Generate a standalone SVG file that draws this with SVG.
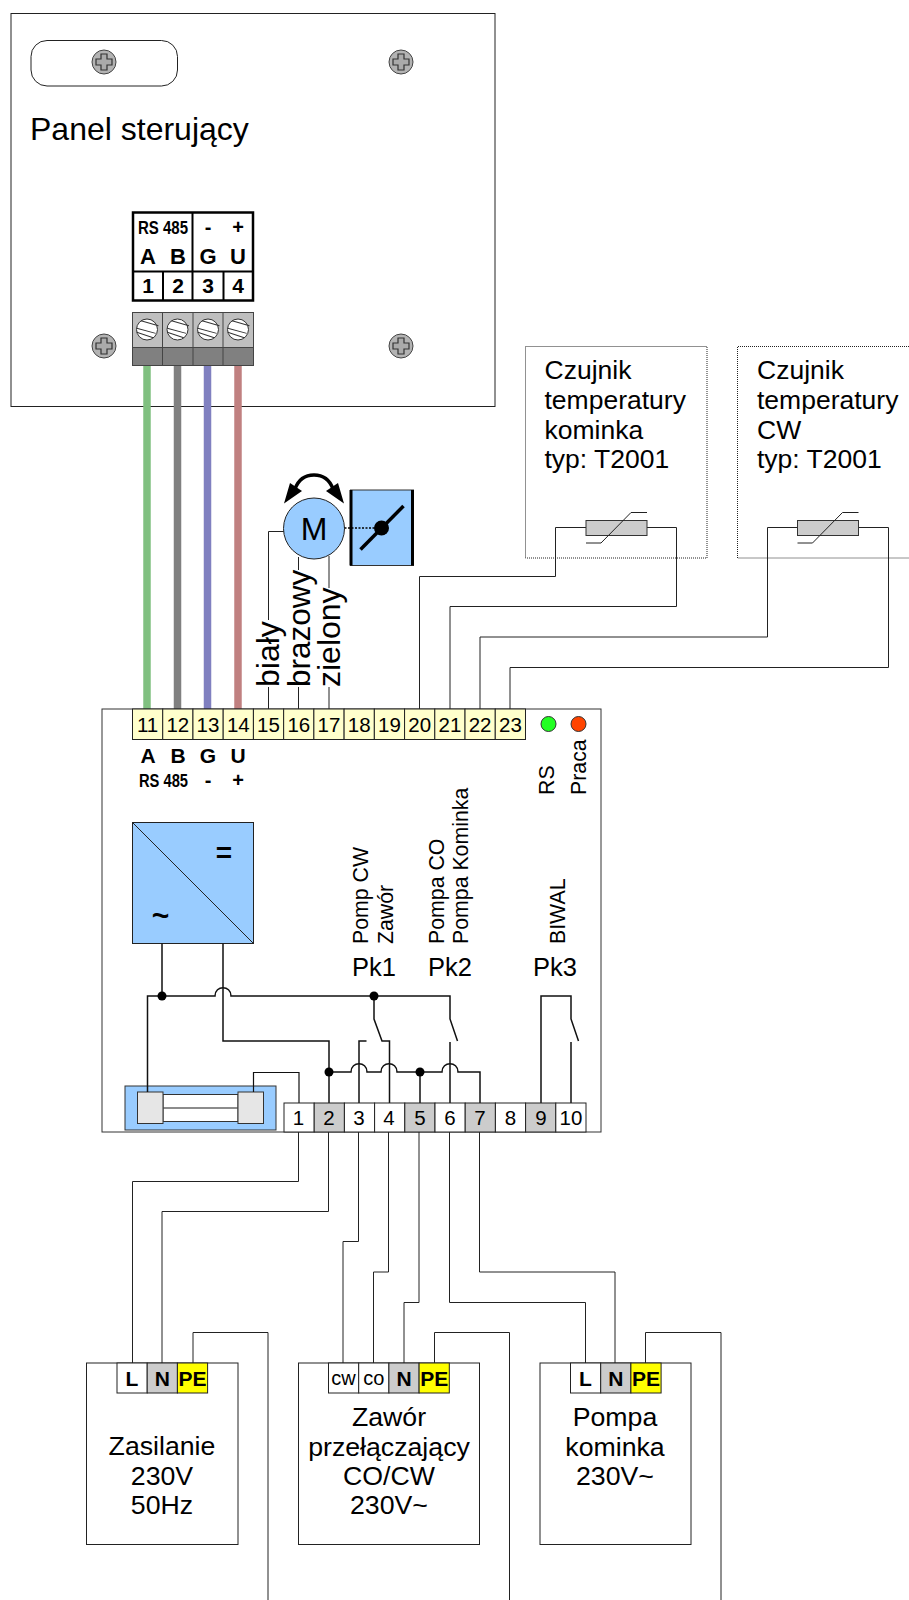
<svg xmlns="http://www.w3.org/2000/svg" xmlns:xlink="http://www.w3.org/1999/xlink" width="909" height="1600" viewBox="0 0 909 1600">
<style>
text{font-family:"Liberation Sans",Arial,sans-serif;fill:#000}
.b{fill:#fff;stroke:#222;stroke-width:1}
.w{fill:none;stroke:#222;stroke-width:1}
.w2{fill:none;stroke:#111;stroke-width:1.5}
.cell{stroke:#222;stroke-width:1}
.y{fill:#ffc}.g{fill:#ccc}.n{fill:#fff}.pe{fill:#ff0}
.blue{fill:#9cf;stroke:#222;stroke-width:1}
.num{font-size:20.5px;text-anchor:middle}
.bold{font-weight:bold;text-anchor:middle}
.big{font-size:26.7px;text-anchor:middle}
.s26{font-size:26.5px}
.v{font-size:21.3px}
.thick{fill:none;stroke:#000;stroke-width:3.5}
.dot{fill:#000}
.sens{fill:none;stroke:#222;stroke-width:1;stroke-dasharray:1 1}
</style>
<defs>
<g id="screw"><circle r="12" fill="#b3b3b3" stroke="#444" stroke-width="1"/><path d="M-3-8H3V-3H8V3H3V8H-3V3H-8V-3H-3Z" fill="#aaa" stroke="#333" stroke-width="1.2"/></g>
<g id="slot"><circle r="10.5" fill="#fff" stroke="#333" stroke-width="1"/><path d="M-9.5-4.500L8-9M-9.500 4L9.500-1M-7.500 7.500L9.500 4" transform="rotate(30)" fill="none" stroke="#333" stroke-width="1"/></g>
</defs>

<g id="panel">
<rect class="b" x="11" y="13.500" width="484" height="393"/>
<rect class="b" x="31" y="40.500" width="146.500" height="45.500" rx="16"/>
<use xlink:href="#screw" x="104" y="62"/><use xlink:href="#screw" x="401" y="62"/><use xlink:href="#screw" x="104" y="346"/><use xlink:href="#screw" x="401" y="346"/>
<text x="30" y="140" font-size="32">Panel sterujący</text>
<g id="panel-labels">
<rect x="133" y="212.500" width="120" height="88" fill="#fff" stroke="#000" stroke-width="2.500"/>
<path d="M133 271.500H253M192.500 212.500V300.500M163 271.500V300.500M223.500 271.500V300.500" fill="none" stroke="#000" stroke-width="2"/>
<text x="163" y="234" font-size="18" class="bold" textLength="50" lengthAdjust="spacingAndGlyphs">RS 485</text>
<text x="208" y="234" font-size="20" class="bold">-</text><text x="238" y="234" font-size="20" class="bold">+</text>
<text x="148" y="264" font-size="22" class="bold">A</text><text x="178" y="264" font-size="22" class="bold">B</text><text x="208" y="264" font-size="22" class="bold">G</text><text x="238" y="264" font-size="22" class="bold">U</text>
<text x="148" y="293" font-size="21" class="bold">1</text><text x="178" y="293" font-size="21" class="bold">2</text><text x="208" y="293" font-size="21" class="bold">3</text><text x="238" y="293" font-size="21" class="bold">4</text>
</g>
<g id="panel-block">
<rect x="132.500" y="312.500" width="121" height="35" fill="#bfbfbf" stroke="#444"/>
<rect x="132.500" y="347.500" width="121" height="18" fill="#808080" stroke="#444"/>
<path d="M162.500 312.500V365M193 312.500V365M223 312.500V365" fill="none" stroke="#444"/>
<use xlink:href="#slot" x="147" y="329.500"/><use xlink:href="#slot" x="177.500" y="329.500"/><use xlink:href="#slot" x="208" y="329.500"/><use xlink:href="#slot" x="238" y="329.500"/>
</g>
</g>

<g id="connectors">
<path d="M147 366V709" fill="none" stroke="#80c080" stroke-width="7.500"/>
<path d="M177.500 366V709" fill="none" stroke="#808080" stroke-width="7.500"/>
<path d="M207.500 366V709" fill="none" stroke="#8080c0" stroke-width="7.500"/>
<path d="M238 366V709" fill="none" stroke="#c08080" stroke-width="7.500"/>
<path class="w" d="M268.500 709V531.500H284M298.500 709V557M329 709V556"/>
<path class="w" d="M586 527.500H555.500V576.500H419.500V709M647 527.500H676.500V606.500H450V709"/>
<path class="w" d="M797 527.500H767.500V637H480V709M859 527.500H888.500V667.500H510V709"/>
<path class="w" d="M298.500 1132V1181.500H132.500V1363M328.500 1132V1211.500H162V1363M358.500 1132V1241.500H343V1363M388.500 1132V1272H373.500V1363M419 1132V1302.500H404V1363M449.500 1132V1302.500H585.500V1363M479.500 1132V1272H615V1363"/>
<path class="w" d="M193 1363V1332.500H268V1600M434.500 1363V1332.500H509.500V1600M645.500 1363V1332.500H721V1600"/>
</g>

<g id="motor">
<path class="thick" d="M295 489C299 478 307 475 314 475C321 475 329 478 333 489"/>
<path d="M284 503.500L290 483L302 491Z M344 503.500L338 483L326 491Z" fill="#000"/>
<circle class="blue" cx="314" cy="528.500" r="30.500"/>
<text x="314" y="540" font-size="32" text-anchor="middle">M</text>
</g>
<g id="damper">
<rect x="350.500" y="490" width="63" height="75.500" fill="#9cf" stroke="#333"/>
<path d="M351 490V565.500M412.500 490V565.500" fill="none" stroke="#000" stroke-width="3"/>
<path d="M344.500 528H381" fill="none" stroke="#000" stroke-width="1.500" stroke-dasharray="2 1.500"/>
<path d="M360.500 549.500L403.500 506" fill="none" stroke="#000" stroke-width="3.500"/>
<circle class="dot" cx="381.500" cy="528" r="7.500"/>
</g>

<g id="wire-labels">
<rect x="257" y="620" width="24" height="67" fill="#fff"/>
<rect x="287" y="570" width="24" height="117" fill="#fff"/>
<rect x="317" y="588" width="24" height="99" fill="#fff"/>
<text transform="translate(279 687) rotate(-90)" font-size="32">biały</text>
<text transform="translate(309.500 687) rotate(-90)" font-size="31.500">brazowy</text>
<text transform="translate(339.500 687) rotate(-90)" font-size="32">zielony</text>
</g>

<g id="sensor-1">
<rect class="sens" x="525.500" y="346.500" width="181.500" height="211.500"/>
<text class="s26" x="544.500" y="379">Czujnik</text><text class="s26" x="544.500" y="409">temperatury</text><text class="s26" x="544.500" y="438.500">kominka</text><text class="s26" x="544.500" y="468">typ: T2001</text>
<rect x="586" y="520.500" width="61" height="15" fill="#ccc" stroke="#333"/>
<path class="w" d="M586 543H601L631 512.500H647"/>
</g>
<g id="sensor-2">
<path class="sens" d="M909 346.500H737.500V558H909"/>
<text class="s26" x="757" y="379">Czujnik</text><text class="s26" x="757" y="409">temperatury</text><text class="s26" x="757" y="438.500">CW</text><text class="s26" x="757" y="468">typ: T2001</text>
<rect x="797.500" y="520.500" width="61" height="15" fill="#ccc" stroke="#333"/>
<path class="w" d="M797.500 543H812.500L842.500 512.500H858.500"/>
</g>

<g id="board">
<rect x="102" y="709" width="499" height="423" fill="#fff" stroke="#333" stroke-width="1"/>
<g id="top-terminals">
<rect class="cell y" x="132.500" y="709" width="30.230" height="30.500"/><rect class="cell y" x="162.730" y="709" width="30.230" height="30.500"/><rect class="cell y" x="192.960" y="709" width="30.230" height="30.500"/><rect class="cell y" x="223.190" y="709" width="30.230" height="30.500"/><rect class="cell y" x="253.420" y="709" width="30.230" height="30.500"/><rect class="cell y" x="283.650" y="709" width="30.230" height="30.500"/><rect class="cell y" x="313.880" y="709" width="30.230" height="30.500"/><rect class="cell y" x="344.110" y="709" width="30.230" height="30.500"/><rect class="cell y" x="374.340" y="709" width="30.230" height="30.500"/><rect class="cell y" x="404.570" y="709" width="30.230" height="30.500"/><rect class="cell y" x="434.800" y="709" width="30.230" height="30.500"/><rect class="cell y" x="465.030" y="709" width="30.230" height="30.500"/><rect class="cell y" x="495.260" y="709" width="30.230" height="30.500"/>
<text class="num" x="147.600" y="731.500">11</text><text class="num" x="177.800" y="731.500">12</text><text class="num" x="208" y="731.500">13</text><text class="num" x="238.300" y="731.500">14</text><text class="num" x="268.500" y="731.500">15</text><text class="num" x="298.800" y="731.500">16</text><text class="num" x="329" y="731.500">17</text><text class="num" x="359.200" y="731.500">18</text><text class="num" x="389.500" y="731.500">19</text><text class="num" x="419.700" y="731.500">20</text><text class="num" x="449.900" y="731.500">21</text><text class="num" x="480.100" y="731.500">22</text><text class="num" x="510.400" y="731.500">23</text>
</g>
<circle cx="548.500" cy="724" r="7.500" fill="#2f2" stroke="#333"/>
<circle cx="578.500" cy="724" r="7.500" fill="#f40" stroke="#333"/>
<text x="148" y="763" font-size="21" class="bold">A</text><text x="178" y="763" font-size="21" class="bold">B</text><text x="208" y="763" font-size="21" class="bold">G</text><text x="238" y="763" font-size="21" class="bold">U</text>
<text x="163.500" y="786.500" font-size="18" class="bold" textLength="49" lengthAdjust="spacingAndGlyphs">RS 485</text><text x="208" y="786.500" font-size="20" class="bold">-</text><text x="238" y="786.500" font-size="20" class="bold">+</text>
<text class="v" transform="translate(554 795) rotate(-90)">RS</text>
<text class="v" transform="translate(585.500 795) rotate(-90)">Praca</text>
<text class="v" transform="translate(368 944) rotate(-90)">Pomp CW</text>
<text class="v" transform="translate(392.500 944) rotate(-90)">Zawór</text>
<text class="v" transform="translate(444 944) rotate(-90)">Pompa CO</text>
<text class="v" transform="translate(468 944) rotate(-90)">Pompa Kominka</text>
<text class="v" transform="translate(565 944) rotate(-90)">BIWAL</text>
<text x="352" y="976" font-size="25.500">Pk1</text><text x="428" y="976" font-size="25.500">Pk2</text><text x="533" y="976" font-size="25.500">Pk3</text>

<g id="converter">
<rect class="blue" x="132.500" y="822.500" width="121" height="121"/>
<path d="M132.500 822.500L253.500 943.500" class="w"/>
<text x="224" y="862" font-size="28" class="bold">=</text>
<text x="160.500" y="925.500" font-size="30" class="bold">~</text>
</g>
<g id="fuse">
<rect x="125" y="1086" width="151" height="44" fill="#9cf" stroke="#333"/>
<rect x="163" y="1094.500" width="75" height="27" fill="#fff" stroke="#333"/>
<path d="M163 1108H238" stroke="#666" stroke-width="1.500"/>
<rect x="137.500" y="1092" width="25.500" height="31.500" fill="#e6e6e6" stroke="#333"/>
<rect x="238" y="1092" width="25.500" height="31.500" fill="#e6e6e6" stroke="#333"/>
</g>
<g id="board-wiring">
<path class="w2" d="M162 943.500V996M147.500 1092V996H215C215 985 231 985 231 996H450V1019L457.500 1041"/>
<path class="w2" d="M223 943.500V1041H329V1103"/>
<path class="w2" d="M374 996V1019L382 1041H389.500V1103M366.500 1041H359V1103"/>
<path class="w2" d="M450 1042V1103M541 1103V996H571V1019L578.500 1041M571 1042V1103"/>
<path class="w2" d="M329 1072H351C351 1061 367 1061 367 1072H381C381 1061 397 1061 397 1072H442C442 1061 458 1061 458 1072H480V1103M420 1072V1103"/>
<path class="w2" style="stroke-width:1.200" d="M253.500 1092V1072.500H299V1103"/>
<circle class="dot" cx="162" cy="996" r="4.500"/><circle class="dot" cx="374" cy="996" r="4.500"/><circle class="dot" cx="329" cy="1072" r="4.500"/><circle class="dot" cx="420" cy="1072" r="4.500"/>
</g>
<g id="bottom-terminals">
<rect class="cell n" x="284" y="1103" width="30.200" height="29"/><rect class="cell g" x="314.200" y="1103" width="30.200" height="29"/><rect class="cell n" x="344.400" y="1103" width="30.200" height="29"/><rect class="cell n" x="374.600" y="1103" width="30.200" height="29"/><rect class="cell g" x="404.800" y="1103" width="30.200" height="29"/><rect class="cell n" x="435" y="1103" width="30.200" height="29"/><rect class="cell g" x="465.200" y="1103" width="30.200" height="29"/><rect class="cell n" x="495.400" y="1103" width="30.200" height="29"/><rect class="cell g" x="525.600" y="1103" width="30.200" height="29"/><rect class="cell n" x="555.800" y="1103" width="30.200" height="29"/>
<text class="num" x="298.500" y="1125">1</text><text class="num" x="329" y="1125">2</text><text class="num" x="359" y="1125">3</text><text class="num" x="389" y="1125">4</text><text class="num" x="420" y="1125">5</text><text class="num" x="450" y="1125">6</text><text class="num" x="480" y="1125">7</text><text class="num" x="510.500" y="1125">8</text><text class="num" x="541" y="1125">9</text><text class="num" x="571" y="1125">10</text>
</g>
</g>

<g id="zasilanie">
<rect class="b" x="86.500" y="1363" width="151.500" height="181.500"/>
<rect class="cell n" x="117" y="1363" width="30.200" height="30"/><rect class="cell g" x="147.200" y="1363" width="30.200" height="30"/><rect class="cell pe" x="177.400" y="1363" width="30.200" height="30"/>
<text x="132" y="1385.500" font-size="21" class="bold">L</text><text x="162.300" y="1385.500" font-size="21" class="bold">N</text><text x="192.500" y="1385.500" font-size="21" class="bold">PE</text>
<text class="big" x="162" y="1455">Zasilanie</text><text class="big" x="162" y="1485">230V</text><text class="big" x="162" y="1514">50Hz</text>
</g>
<g id="zawor">
<rect class="b" x="298.500" y="1363" width="181" height="181.500"/>
<rect class="cell n" x="328.500" y="1363" width="30.200" height="30"/><rect class="cell n" x="358.700" y="1363" width="30.200" height="30"/><rect class="cell g" x="388.900" y="1363" width="30.200" height="30"/><rect class="cell pe" x="419.100" y="1363" width="30.200" height="30"/>
<text x="343.500" y="1385" font-size="20" text-anchor="middle">cw</text><text x="373.800" y="1385" font-size="20" text-anchor="middle">co</text><text x="404" y="1385.500" font-size="21" class="bold">N</text><text x="434.300" y="1385.500" font-size="21" class="bold">PE</text>
<text class="big" x="389" y="1426">Zawór</text><text class="big" x="389" y="1456">przełączający</text><text class="big" x="389" y="1485">CO/CW</text><text class="big" x="389" y="1514">230V~</text>
</g>
<g id="pompa">
<rect class="b" x="540" y="1363" width="151" height="181.500"/>
<rect class="cell n" x="570.500" y="1363" width="30.200" height="30"/><rect class="cell g" x="600.700" y="1363" width="30.200" height="30"/><rect class="cell pe" x="630.900" y="1363" width="30.200" height="30"/>
<text x="585.500" y="1385.500" font-size="21" class="bold">L</text><text x="615.800" y="1385.500" font-size="21" class="bold">N</text><text x="646" y="1385.500" font-size="21" class="bold">PE</text>
<text class="big" x="615" y="1426">Pompa</text><text class="big" x="615" y="1456">kominka</text><text class="big" x="615" y="1485">230V~</text>
</g>
</svg>
